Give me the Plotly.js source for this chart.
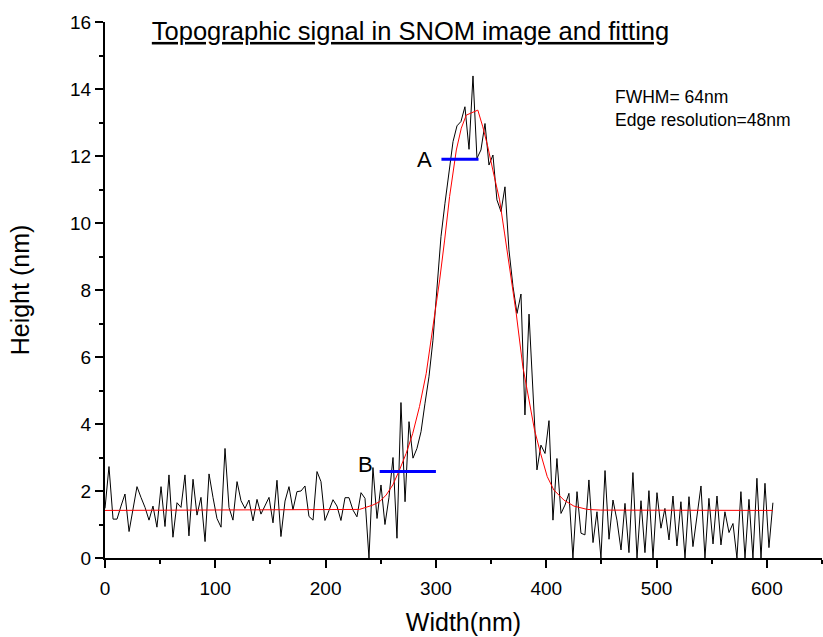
<!DOCTYPE html>
<html><head><meta charset="utf-8">
<script src="https://cdn.plot.ly/plotly-3.0.1.min.js"></script>
<style>html,body{margin:0;padding:0;background:#fff;}#chart{width:823px;height:637px;}</style>
</head><body><div id="chart"></div>
<script>
// Measured profile: width position (nm) and height (nm)
const widthNm = [0,3.6,7.3,10.9,14.5,18.1,21.8,25.4,29.0,32.6,36.3,39.9,43.5,47.1,50.8,54.4,58.0,61.6,65.3,68.9,
72.5,76.1,79.8,83.4,87.0,90.7,94.3,97.9,101.5,105.2,108.8,112.4,116.0,119.7,123.3,126.9,130.5,134.2,137.8,141.4,
145.0,148.7,152.3,155.9,159.5,163.2,166.8,170.4,174.0,177.7,181.3,184.9,188.6,192.2,195.8,199.4,203.1,206.7,210.3,213.9,
217.6,221.2,224.8,228.4,232.1,235.7,239.3,242.9,246.6,250.2,253.8,257.4,261.1,264.7,268.3,272.0,275.6,279.2,282.8,286.5,
290.1,293.7,297.3,301.0,304.6,308.2,311.8,315.5,319.1,322.7,326.3,330.0,333.6,337.2,340.8,344.5,348.1,351.7,355.3,359.0,
362.6,366.2,369.9,373.5,377.1,380.7,384.4,388.0,391.6,395.2,398.9,402.5,406.1,409.7,413.4,417.0,420.6,424.2,427.9,431.5,
435.1,438.7,442.4,446.0,449.6,453.3,456.9,460.5,464.1,467.8,471.4,475.0,478.6,482.3,485.9,489.5,493.1,496.8,500.4,504.0,
507.6,511.3,514.9,518.5,522.1,525.8,529.4,533.0,536.6,540.3,543.9,547.5,551.2,554.8,558.4,562.0,565.7,569.3,572.9,576.5,
580.2,583.8,587.4,591.0,594.7,598.3,601.9,605.5];
const heightNm = [1.48,2.73,1.16,1.16,1.55,1.91,0.79,1.45,2.13,1.81,1.51,1.13,1.55,0.92,2.13,0.94,2.48,0.62,1.65,1.51,
2.48,0.66,2.35,1.28,1.81,0.49,2.51,1.81,1.18,0.92,3.27,1.51,1.13,2.28,1.71,1.48,1.73,1.11,1.75,1.31,
1.58,1.81,1.05,2.32,0.64,1.70,2.13,1.44,1.98,2.00,2.15,1.24,1.13,2.58,2.28,1.12,1.42,1.74,1.55,1.12,
1.80,1.80,1.43,1.23,1.95,1.78,0.00,2.70,1.18,2.18,1.00,1.80,3.00,0.59,4.64,1.68,4.07,2.98,3.27,3.77,
4.62,5.41,6.50,8.00,9.60,10.59,11.58,12.43,12.90,13.03,13.47,12.20,14.39,11.93,12.18,12.97,11.73,12.03,10.69,10.34,
11.08,9.20,8.10,7.30,7.88,4.27,7.28,5.00,2.63,3.37,3.12,4.10,1.13,2.97,1.33,1.58,1.93,0.00,1.98,0.74,
0.69,2.33,0.46,1.38,0.00,2.61,0.56,1.73,1.13,0.24,1.63,0.16,2.55,0.00,1.71,0.16,2.01,0.00,1.95,0.89,
1.48,0.54,1.85,0.36,1.68,0.00,1.83,0.34,1.23,2.15,0.00,1.78,0.42,1.85,0.39,1.38,0.76,1.03,0.00,1.98,
0.00,1.75,0.00,2.38,0.00,2.23,0.31,1.65];
// Fitted curve
const fitX = [0,220,230.7,242.8,248.9,254.9,260.9,267.0,273.0,279.0,285.1,291.2,297.4,303.4,307.9,312.4,318.5,323.0,327.5,338.0,
342.5,347.0,351.6,357.7,362.2,366.7,372.8,378.8,384.9,389.4,394.9,400.9,406.9,416.0,425.1,437.2,449.3,605.5];
const fitY = [1.42,1.43,1.45,1.58,1.68,1.88,2.18,2.63,3.12,3.72,4.52,5.51,6.90,8.30,9.49,10.79,12.18,12.83,13.22,13.37,
12.87,12.28,11.58,10.69,9.70,8.70,7.30,5.71,4.62,3.82,3.12,2.43,2.03,1.73,1.55,1.45,1.43,1.42];
// Marker bars A and B
const markAX = [305, 338.6], markAY = [11.9, 11.9];
const markBX = [249, 300], markBY = [2.58, 2.58];
const xTickVals = [0,100,200,300,400,500,600];
const yTickVals = [0,2,4,6,8,10,12,14,16];
const titleText = 'Topographic signal in SNOM image and fitting';
const noteLines = ['FWHM= 64nm', 'Edge resolution=48nm'];
const labelA = 'A', labelB = 'B';

const FONT = 'Liberation Sans, Arial, sans-serif';

const traces = [
  {x: widthNm, y: heightNm, type: 'scatter', mode: 'lines', line: {color: '#000', width: 1}, cliponaxis: false, hoverinfo: 'skip'},
  {x: fitX, y: fitY, type: 'scatter', mode: 'lines', line: {color: '#ff0000', width: 1}, hoverinfo: 'skip'},
  {x: markAX, y: markAY, type: 'scatter', mode: 'lines', line: {color: '#0000ff', width: 3}, hoverinfo: 'skip'},
  {x: markBX, y: markBY, type: 'scatter', mode: 'lines', line: {color: '#0000ff', width: 3}, hoverinfo: 'skip'}
];

const axisCommon = {
  showline: true, linecolor: '#000', linewidth: 2, mirror: false,
  ticks: 'outside', ticklen: 8, tickwidth: 2, tickcolor: '#000',
  showgrid: false, zeroline: false,
  tickfont: {family: FONT, size: 19, color: '#000'},
  minor: {ticks: 'outside', ticklen: 4, tickwidth: 2, tickcolor: '#000', showgrid: false}
};

const layout = {
  width: 823, height: 637,
  margin: {l: 105, r: 1, t: 22, b: 79},
  paper_bgcolor: '#fff', plot_bgcolor: '#fff',
  showlegend: false,
  font: {family: FONT, color: '#000'},
  title: {text: '<u>' + titleText + '</u>', font: {family: FONT, size: 25.5, color: '#000'},
          x: 0.4988, xref: 'container', xanchor: 'center', y: 1 - 31/637, yref: 'container', yanchor: 'middle'},
  xaxis: Object.assign({}, axisCommon, {
    range: [0, 650], tickvals: xTickVals, ticktext: xTickVals.map(String),
    ticklabelstandoff: 4,
    minor: Object.assign({}, axisCommon.minor, {dtick: 50, tick0: 0}),
    title: {text: 'Width(nm)', font: {family: FONT, size: 25, color: '#000'}, standoff: 16}
  }),
  yaxis: Object.assign({}, axisCommon, {
    range: [0, 16], tickvals: yTickVals, ticktext: yTickVals.map(String),
    minor: Object.assign({}, axisCommon.minor, {dtick: 1, tick0: 0}),
    title: {text: 'Height (nm)', font: {family: FONT, size: 25, color: '#000'}, standoff: 33}
  }),
  annotations: [
    {text: labelA, x: 298.1, y: 11.9, xref: 'x', yref: 'y', xanchor: 'right', yanchor: 'middle', showarrow: false, font: {family: FONT, size: 22, color: '#000'}},
    {text: labelB, x: 245, y: 2.78, xref: 'x', yref: 'y', xanchor: 'right', yanchor: 'middle', showarrow: false, font: {family: FONT, size: 22, color: '#000'}},
    {text: noteLines[0], x: 460.1, y: 13.75, xref: 'x', yref: 'y', xanchor: 'left', yanchor: 'middle', showarrow: false, font: {family: FONT, size: 17.5, color: '#000'}},
    {text: noteLines[1], x: 460.1, y: 13.08, xref: 'x', yref: 'y', xanchor: 'left', yanchor: 'middle', showarrow: false, font: {family: FONT, size: 17.5, color: '#000'}}
  ]
};

Plotly.newPlot('chart', traces, layout, {staticPlot: true, displayModeBar: false});
</script>
</body></html>
